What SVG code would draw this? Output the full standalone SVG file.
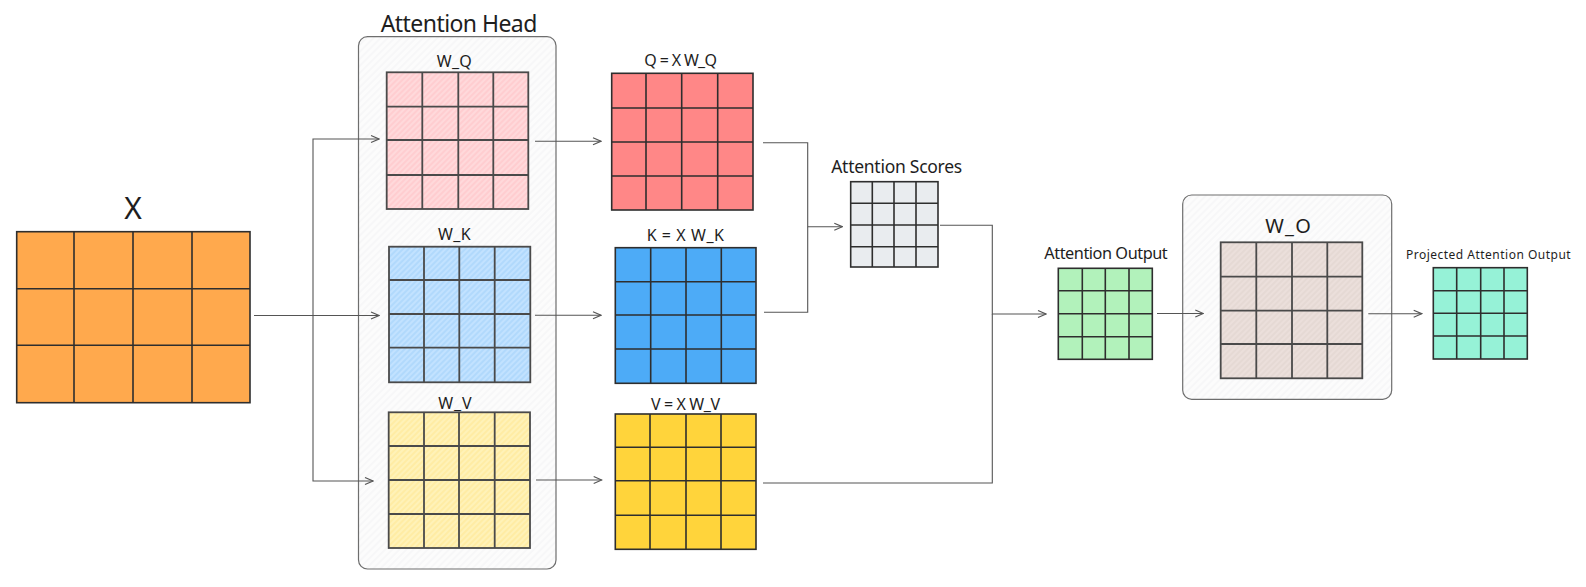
<svg xmlns="http://www.w3.org/2000/svg" width="1586" height="587" viewBox="0 0 1586 587">
<defs>
<style>
.t{font-family:"Noto Sans","Liberation Sans",sans-serif;fill:#1e1e1e;text-anchor:middle}
.g{fill:none;stroke:#2e2e2e;stroke-width:1.6}
.gh{fill:none;stroke:#4a4a4a;stroke-width:1.8}
.box{stroke:#6e6e6e;stroke-width:1.2}
.c{fill:none;stroke:#555;stroke-width:1.1}
.ca{fill:none;stroke:#555;stroke-width:1.1;marker-end:url(#arr)}
</style>
<marker id="arr" viewBox="0 0 10 10" refX="9" refY="5" markerWidth="10" markerHeight="10" markerUnits="userSpaceOnUse" orient="auto">
<path d="M1,1.5 L9,5 L1,8.5" fill="none" stroke="#555" stroke-width="1.2"/>
</marker>
<pattern id="hPink" patternUnits="userSpaceOnUse" width="4" height="4" patternTransform="rotate(45)"><rect width="4" height="4" fill="#ffd9db"/><line x1="1" y1="0" x2="1" y2="4" stroke="#ffcacd" stroke-width="1.5"/></pattern>
<pattern id="hBlue" patternUnits="userSpaceOnUse" width="4" height="4" patternTransform="rotate(45)"><rect width="4" height="4" fill="#c2e2ff"/><line x1="1" y1="0" x2="1" y2="4" stroke="#acd6fc" stroke-width="1.5"/></pattern>
<pattern id="hYel" patternUnits="userSpaceOnUse" width="4" height="4" patternTransform="rotate(45)"><rect width="4" height="4" fill="#fff2b8"/><line x1="1" y1="0" x2="1" y2="4" stroke="#ffeb9e" stroke-width="1.5"/></pattern>
<pattern id="hBrown" patternUnits="userSpaceOnUse" width="4" height="4" patternTransform="rotate(45)"><rect width="4" height="4" fill="#ebdfdb"/><line x1="1" y1="0" x2="1" y2="4" stroke="#e4d7d2" stroke-width="1.5"/></pattern>
<pattern id="hGray" patternUnits="userSpaceOnUse" width="5" height="5" patternTransform="rotate(45)"><rect width="5" height="5" fill="#fcfcfc"/><line x1="1" y1="0" x2="1" y2="5" stroke="#f4f5f6" stroke-width="1.2"/></pattern>
</defs>
<rect width="1586" height="587" fill="#ffffff"/>

<g id="attention-head-box">
<rect class="box" x="358.5" y="36.7" width="197.5" height="532.3" rx="9" fill="url(#hGray)"/>
<text class="t" x="459" y="31.7" font-size="23" textLength="156.6">Attention Head</text>
</g>

<g id="w-o-box">
<rect class="box" x="1182.7" y="195" width="209" height="204.3" rx="9" fill="url(#hGray)"/>
</g>

<g id="connectors">
<path class="ca" d="M254,315.5 H379"/>
<path class="ca" d="M313,315.5 V139 H379"/>
<path class="ca" d="M313,315.5 V481 H373"/>
<path class="ca" d="M535,141.3 H601"/>
<path class="ca" d="M535,315.3 H601"/>
<path class="ca" d="M536,480 H601.7"/>
<path class="ca" d="M763,142.7 H807.7 V226.7 H842.3"/>
<path class="c" d="M764,312.3 H807.7 V226.7"/>
<path class="ca" d="M940,225.3 H992.3 V314 H1046"/>
<path class="c" d="M763,483 H992.3 V314"/>
<path class="ca" d="M1157,313.5 H1203.3"/>
<path class="ca" d="M1368.3,313.7 H1421.7"/>
</g>

<g id="X">
<text class="t" x="133" y="219" font-size="30">X</text>
<rect x="16.7" y="231.7" width="233.3" height="171" fill="#ffa94d"/>
<rect class="g" x="16.7" y="231.7" width="233.3" height="171"/>
<path class="g" d="M74,231.7 V402.7 M133,231.7 V402.7 M192,231.7 V402.7 M16.7,288.7 H250 M16.7,345.3 H250"/>
</g>

<g id="W_Q">
<text class="t" x="454.3" y="66.5" font-size="16" textLength="35">W_Q</text>
<rect x="386.7" y="72.3" width="141.6" height="136.7" fill="url(#hPink)"/>
<rect class="gh" x="386.7" y="72.3" width="141.6" height="136.7"/>
<path class="gh" d="M422.3,72.3 V209 M458.3,72.3 V209 M493.3,72.3 V209 M386.7,106.7 H528.3 M386.7,140 H528.3 M386.7,175 H528.3"/>
</g>

<g id="Q">
<text class="t" x="680.7" y="66" font-size="16" textLength="72.7">Q = X W_Q</text>
<rect x="611.7" y="73.3" width="141.3" height="136.7" fill="#ff8787"/>
<rect class="g" x="611.7" y="73.3" width="141.3" height="136.7"/>
<path class="g" d="M646,73.3 V210 M681.7,73.3 V210 M717.7,73.3 V210 M611.7,108 H753 M611.7,142 H753 M611.7,176 H753"/>
</g>

<g id="W_K">
<text class="t" x="454.3" y="240" font-size="16" textLength="32.7">W_K</text>
<rect x="389" y="246.7" width="141.3" height="135.6" fill="url(#hBlue)"/>
<rect class="gh" x="389" y="246.7" width="141.3" height="135.6"/>
<path class="gh" d="M424,246.7 V382.3 M459.3,246.7 V382.3 M494.7,246.7 V382.3 M389,280 H530.3 M389,314 H530.3 M389,347.7 H530.3"/>
</g>

<g id="K">
<text class="t" x="685.3" y="240.7" font-size="16" textLength="77.3">K = X W_K</text>
<rect x="615.3" y="247.7" width="140.7" height="135.6" fill="#4dabf7"/>
<rect class="g" x="615.3" y="247.7" width="140.7" height="135.6"/>
<path class="g" d="M650.7,247.7 V383.3 M686,247.7 V383.3 M721.3,247.7 V383.3 M615.3,281.7 H756 M615.3,315 H756 M615.3,349 H756"/>
</g>

<g id="W_V">
<text class="t" x="455" y="409" font-size="16" textLength="33.3">W_V</text>
<rect x="388.7" y="412.3" width="141.3" height="135.7" fill="url(#hYel)"/>
<rect class="gh" x="388.7" y="412.3" width="141.3" height="135.7"/>
<path class="gh" d="M424,412.3 V548 M459,412.3 V548 M494.7,412.3 V548 M388.7,446 H530 M388.7,480 H530 M388.7,514 H530"/>
</g>

<g id="V">
<text class="t" x="685.5" y="409.5" font-size="16" textLength="69">V = X W_V</text>
<rect x="615.3" y="414" width="140.7" height="135.3" fill="#ffd43b"/>
<rect class="g" x="615.3" y="414" width="140.7" height="135.3"/>
<path class="g" d="M650,414 V549.3 M686,414 V549.3 M721,414 V549.3 M615.3,447.3 H756 M615.3,480.7 H756 M615.3,515.3 H756"/>
</g>

<g id="attention-scores">
<text class="t" x="896.7" y="173.3" font-size="17.5" textLength="131">Attention Scores</text>
<rect x="850.7" y="181.7" width="87.3" height="85.3" fill="#e9ecef"/>
<rect class="g" x="850.7" y="181.7" width="87.3" height="85.3"/>
<path class="g" d="M872.3,181.7 V267 M894,181.7 V267 M916,181.7 V267 M850.7,203.3 H938 M850.7,225 H938 M850.7,246.7 H938"/>
</g>

<g id="attention-output">
<text class="t" x="1106" y="259.3" font-size="16.3" textLength="123.4">Attention Output</text>
<rect x="1058.3" y="268.3" width="94" height="91" fill="#b2f2bb"/>
<rect class="g" x="1058.3" y="268.3" width="94" height="91"/>
<path class="g" d="M1082.3,268.3 V359.3 M1105.3,268.3 V359.3 M1129,268.3 V359.3 M1058.3,290.7 H1152.3 M1058.3,313.7 H1152.3 M1058.3,336.7 H1152.3"/>
</g>

<g id="W_O">
<text class="t" x="1288" y="232.7" font-size="20" textLength="45.7">W_O</text>
<rect x="1220.7" y="242.3" width="141.6" height="136" fill="url(#hBrown)"/>
<rect class="gh" x="1220.7" y="242.3" width="141.6" height="136"/>
<path class="gh" d="M1256.3,242.3 V378.3 M1292,242.3 V378.3 M1327.3,242.3 V378.3 M1220.7,276.7 H1362.3 M1220.7,310.7 H1362.3 M1220.7,344 H1362.3"/>
</g>

<g id="projected-attention-output">
<text class="t" x="1488.3" y="258.7" font-size="12" textLength="164.7">Projected Attention Output</text>
<rect x="1433.3" y="267.7" width="94" height="91.3" fill="#96f2d7"/>
<rect class="g" x="1433.3" y="267.7" width="94" height="91.3"/>
<path class="g" d="M1456.7,267.7 V359 M1480.7,267.7 V359 M1504,267.7 V359 M1433.3,290.7 H1527.3 M1433.3,313.3 H1527.3 M1433.3,336 H1527.3"/>
</g>
</svg>
